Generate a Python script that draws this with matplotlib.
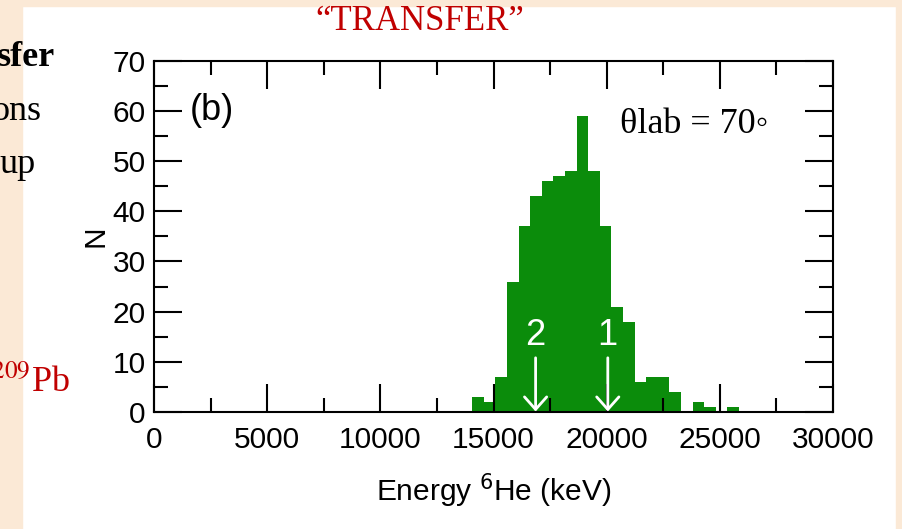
"""
Energy spectrum of 6He, "TRANSFER" panel (b), theta_lab = 70 deg.
"""

import matplotlib
matplotlib.use('Agg')
import matplotlib.pyplot as plt
from matplotlib.patches import Rectangle
from matplotlib.ticker import MultipleLocator

# histogram data (keV bin edges and counts per bin)
bin_edges = [14060, 14573, 15085, 15598, 16110, 16623, 17135, 17648, 18160,
             18673, 19185, 19698, 20210, 20723, 21235, 21748, 22260, 22773,
             23285, 23798, 24310, 24823, 25335, 25848]
counts = [3, 2, 7, 26, 37, 43, 46, 47, 48, 59, 48, 37, 21, 18, 6, 7, 7, 4,
          0, 2, 1, 0, 1]

# arrows marking the two reaction peaks
arrow_labels = ['2', '1']
arrow_energy = [16860, 20050]

x_ticks = [0, 5000, 10000, 15000, 20000, 25000, 30000]
y_ticks = [0, 10, 20, 30, 40, 50, 60, 70]

BEIGE = '#fbe9d6'
RED = '#c00000'
GREEN = '#0b8c0b'
SANS = ['Liberation Sans', 'DejaVu Sans']
SERIF = ['Liberation Serif', 'DejaVu Serif']

plt.rcParams['font.family'] = SANS

fig = plt.figure(figsize=(9.02, 5.29), dpi=100)
fig.patch.set_facecolor('white')

# slide background strips
fig.patches.append(Rectangle((0, 0), 22 / 902, 1, transform=fig.transFigure,
                             color=BEIGE, zorder=0))
fig.patches.append(Rectangle((0, 1 - 6 / 529), 1, 6 / 529, transform=fig.transFigure,
                             color=BEIGE, zorder=0))
fig.patches.append(Rectangle((896 / 902, 0), 6 / 902, 1, transform=fig.transFigure,
                             color=BEIGE, zorder=0))

ax = fig.add_axes([154 / 902, 1 - 412 / 529, (833 - 154) / 902, (412 - 60.7) / 529])
ax.stairs(counts, bin_edges, fill=True, color=GREEN, linewidth=0)

ax.set_xlim(0, 30000)
ax.set_ylim(0, 70)
ax.set_xticks(x_ticks)
ax.set_yticks(y_ticks)
ax.xaxis.set_minor_locator(MultipleLocator(2500))
ax.yaxis.set_minor_locator(MultipleLocator(5))
ax.tick_params(which='both', direction='in', top=True, right=True, width=1.5,
               labelsize=21.5)
ax.tick_params(which='major', length=20)
ax.tick_params(which='minor', length=10)
ax.tick_params(axis='x', pad=10)
ax.tick_params(axis='y', pad=6)
for sp in ax.spines.values():
    sp.set_linewidth(1.5)

ax.set_xlabel(r'Energy $^{\mathsf{6}}$He (keV)', fontsize=21.5, labelpad=13,
              math_fontfamily='dejavusans')
ax.set_ylabel('N', fontsize=21.5, labelpad=2)

ax.text(1600, 60, '(b)', fontsize=26, ha='left', va='center')
ax.text(20590, 55.6, 'θlab = 70◦', fontsize=26, family=SERIF, ha='left',
        va='baseline')

for lab, en in zip(arrow_labels, arrow_energy):
    ax.annotate('', xy=(en, 0.1), xytext=(en, 10.8),
                arrowprops=dict(arrowstyle='->,head_length=0.45,head_width=0.4',
                                color='white', lw=2, mutation_scale=20,
                                shrinkA=0, shrinkB=0))
    ax.text(en, 15.3, lab, color='white', fontsize=26, ha='center', va='center')

# slide text around the figure
fig.text(420 / 902, 1 - 22 / 529, '\u201cTRANSFER\u201d', color=RED, fontsize=25,
         family=SERIF, ha='center', va='center')
fig.text(55 / 902, 1 - 58 / 529, 'sfer', fontsize=26, family=SERIF,
         fontweight='bold', ha='right', va='center')
fig.text(42 / 902, 1 - 112 / 529, 'ons', fontsize=26, family=SERIF,
         ha='right', va='center')
fig.text(36 / 902, 1 - 164 / 529, 'up', fontsize=26, family=SERIF,
         ha='right', va='center')
fig.text(70 / 902, 1 - 383 / 529, r'$^{209}$Pb', fontsize=26, family=SERIF,
         color=RED, ha='right', va='center', math_fontfamily='stix')

fig.savefig('out.png', dpi=100)
